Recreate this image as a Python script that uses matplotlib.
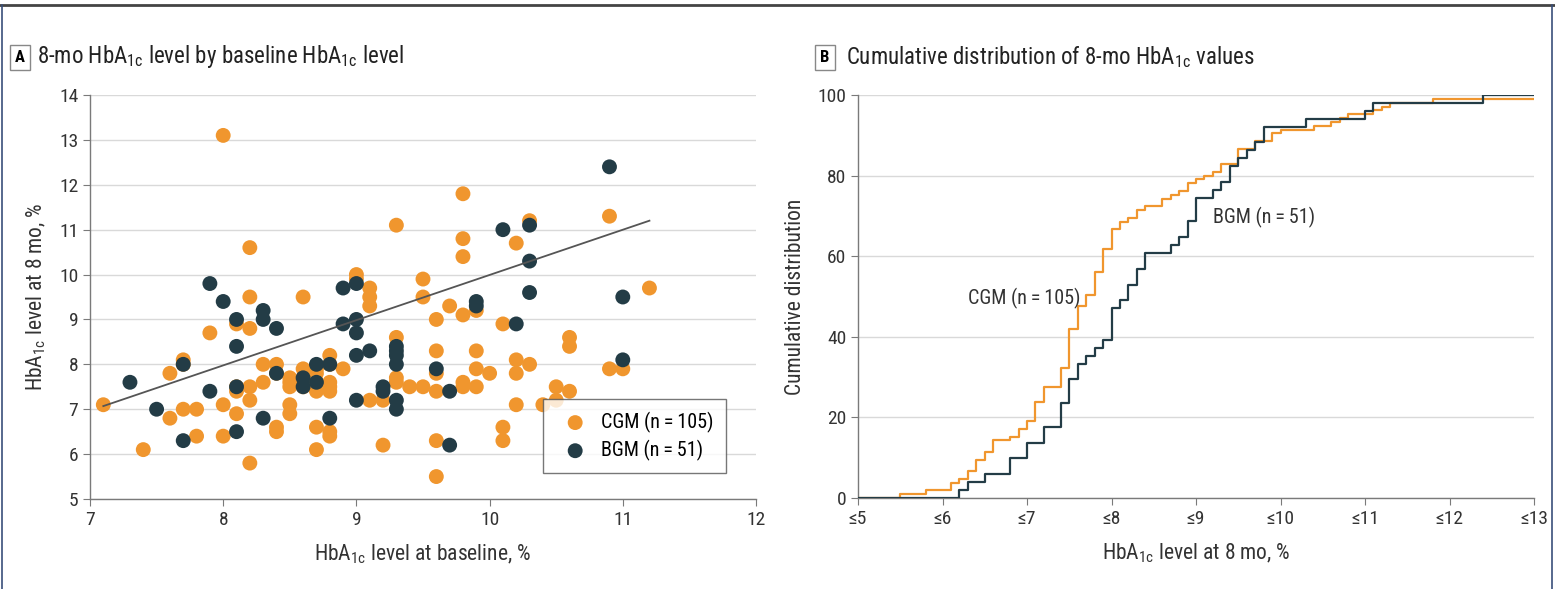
import numpy as np
import matplotlib.pyplot as plt
from matplotlib.lines import Line2D
from matplotlib import font_manager

names = {f.name for f in font_manager.fontManager.ttflist}
narrow = [n for n in ['Liberation Sans Narrow', 'Roboto Condensed', 'Open Sans Condensed',
                      'DejaVu Sans Condensed'] if n in names]
plt.rcParams['font.family'] = narrow[:1] + ['DejaVu Sans']
plt.rcParams['font.stretch'] = 'condensed'

ORANGE = '#F0962E'
DARK = '#233C46'
GRID = '#D9D9D9'
AXC = '#7A7A7A'

# CGM group: baseline HbA1c (x) and 8-mo HbA1c (y)
cgm_base = [7.1, 7.4, 7.6, 7.6, 7.7, 7.7, 7.8, 7.8, 7.9, 8.0, 8.0, 8.0, 8.1, 8.1, 8.1,
            8.2, 8.2, 8.2, 8.2, 8.2, 8.2, 8.3, 8.3, 8.4, 8.4, 8.4, 8.5, 8.5, 8.5, 8.5,
            8.6, 8.6, 8.7, 8.7, 8.7, 8.7, 8.8, 8.8, 8.8, 8.8, 8.8, 8.9, 9.0, 9.1, 9.1,
            9.1, 9.1, 9.2, 9.2, 9.3, 9.3, 9.3, 9.4, 9.5, 9.5, 9.5, 9.6, 9.6, 9.6, 9.6,
            9.6, 9.7, 9.8, 9.8, 9.8, 9.8, 9.8, 9.8, 9.9, 9.9, 9.9, 9.9, 10.0, 10.1, 10.1,
            10.1, 10.2, 10.2, 10.2, 10.2, 10.3, 10.3, 10.4, 10.5, 10.5, 10.6, 10.6, 10.6, 10.9, 10.9,
            11.0, 11.2,
            7.7, 8.1, 8.4, 8.6, 8.6, 8.7, 8.7, 8.8, 8.8, 9.3, 8.5, 9.6, 9.0]
cgm_8mo = [7.1, 6.1, 6.8, 7.8, 7.0, 8.1, 6.4, 7.0, 8.7, 13.1, 6.4, 7.1, 6.9, 7.4, 8.9,
           10.6, 9.5, 8.8, 7.5, 7.2, 5.8, 8.0, 7.6, 8.0, 6.6, 6.5, 7.6, 7.5, 7.1, 6.9,
           9.5, 7.9, 7.9, 7.4, 6.6, 6.1, 8.2, 7.6, 7.4, 6.5, 6.4, 7.9, 10.0, 9.7, 9.5,
           9.3, 7.2, 7.2, 6.2, 11.1, 8.6, 7.7, 7.5, 9.9, 9.5, 7.5, 9.0, 8.3, 7.4, 6.3,
           5.5, 9.3, 11.8, 10.8, 10.4, 9.1, 7.6, 7.5, 9.2, 8.3, 7.9, 7.5, 7.8, 8.9, 6.6,
           6.3, 10.7, 8.1, 7.8, 7.1, 11.2, 8.0, 7.1, 7.5, 7.2, 8.6, 8.4, 7.4, 11.3, 7.9,
           7.9, 9.7,
           8.0, 7.5, 7.8, 7.7, 7.5, 7.6, 7.8, 7.5, 8.0, 7.6, 7.7, 7.8, 9.9]

# BGM group
bgm_base = [7.3, 7.5, 7.7, 7.7, 7.9, 7.9, 8.0, 8.1, 8.1, 8.1, 8.1, 8.3, 8.3, 8.3, 8.4,
            8.4, 8.6, 8.6, 8.7, 8.7, 8.8, 8.8, 8.9, 8.9, 9.0, 9.0, 9.0, 9.0, 9.0, 9.1,
            9.2, 9.2, 9.3, 9.3, 9.3, 9.3, 9.3, 9.3, 9.6, 9.7, 9.7, 9.9, 9.9, 10.1, 10.2,
            10.3, 10.3, 10.3, 10.9, 11.0, 11.0]
bgm_8mo = [7.6, 7.0, 8.0, 6.3, 9.8, 7.4, 9.4, 9.0, 8.4, 7.5, 6.5, 9.2, 9.0, 6.8, 8.8,
           7.8, 7.7, 7.5, 8.0, 7.6, 8.0, 6.8, 9.7, 8.9, 9.8, 9.0, 8.7, 8.2, 7.2, 8.3,
           7.5, 7.4, 8.4, 8.3, 8.2, 8.0, 7.2, 7.0, 7.9, 7.4, 6.2, 9.4, 9.3, 11.0, 8.9,
           11.1, 10.3, 9.6, 12.4, 9.5, 8.1]

# fitted line endpoints
fit_x = [7.1, 11.2]
fit_y = [7.07, 11.2]

cdf_ticks = [5, 6, 7, 8, 9, 10, 11, 12, 13]
cdf_labels = ['≤%d' % t for t in cdf_ticks]

lab_cgm = 'CGM (n\u2009=\u2009105)'
lab_bgm = 'BGM (n\u2009=\u200951)'

TITLE = 16.5
LAB = 15.5
TICK = 14
NOTE = 14.5

fig = plt.figure(figsize=(15.55, 5.89), dpi=100)


def style_axes(ax):
    for s in ['top', 'right']:
        ax.spines[s].set_visible(False)
    for s in ['left', 'bottom']:
        ax.spines[s].set_color(AXC)
        ax.spines[s].set_linewidth(1.0)
    ax.tick_params(colors='#333333', labelsize=TICK, length=5, color=AXC)
    ax.grid(axis='y', color=GRID, linewidth=1.0)
    ax.set_axisbelow(True)


# Panel A
axA = fig.add_axes([90 / 1555, 1 - 499 / 589, 666 / 1555, 404 / 589])
style_axes(axA)
axA.scatter(cgm_base, cgm_8mo, s=115, color=ORANGE, edgecolors='none', zorder=3,
            label=lab_cgm)
axA.scatter(bgm_base, bgm_8mo, s=115, color=DARK, edgecolors='none', zorder=4,
            label=lab_bgm)
axA.plot(fit_x, fit_y, color='#555555', linewidth=1.3, zorder=5)
axA.set_xlim(7, 12)
axA.set_ylim(5, 14)
axA.set_xticks(range(7, 13))
axA.set_yticks(range(5, 15))
axA.set_xlabel('HbA$_{\\mathregular{1c}}$ level at baseline, %', fontsize=LAB,
               color='#333333', labelpad=10)
axA.set_ylabel('HbA$_{\\mathregular{1c}}$ level at 8 mo, %', fontsize=LAB,
               color='#333333', labelpad=8)
leg = axA.legend(loc='lower right', bbox_to_anchor=(0.97, 0.04), fontsize=NOTE,
                 frameon=True, fancybox=False, edgecolor='#555555',
                 handletextpad=0.3, borderpad=0.6, labelspacing=0.35,
                 markerscale=1.0)
leg.get_frame().set_linewidth(1.0)

# Panel B
axB = fig.add_axes([858 / 1555, 1 - 498 / 589, 676 / 1555, 403 / 589])
style_axes(axB)


def cdf_steps(vals):
    v = np.sort(np.asarray(vals))
    pct = np.arange(1, len(v) + 1) / len(v) * 100
    xs = np.concatenate([[5], v, [13.5]])
    ys = np.concatenate([[0], pct, [pct[-1]]])
    return xs, ys


xb, yb = cdf_steps(bgm_8mo)
xc, yc = cdf_steps(cgm_8mo)
axB.step(xc, yc, where='post', color=ORANGE, linewidth=1.6, zorder=3)
axB.step(xb, yb, where='post', color=DARK, linewidth=1.6, zorder=4)
axB.set_xlim(5, 13)
axB.set_ylim(0, 100)
axB.set_xticks(cdf_ticks)
axB.set_xticklabels(cdf_labels)
axB.set_yticks(range(0, 101, 20))
axB.set_xlabel('HbA$_{\\mathregular{1c}}$ level at 8 mo, %', fontsize=LAB,
               color='#333333', labelpad=10)
axB.set_ylabel('Cumulative distribution', fontsize=LAB, color='#333333', labelpad=8)
axB.text(6.97, 49.5, lab_cgm, fontsize=NOTE, color='#333333',
         ha='center', va='center')
axB.text(9.2, 69.5, lab_bgm, fontsize=NOTE, color='#333333',
         ha='left', va='center')

# panel titles with boxed letters
box = dict(boxstyle='square,pad=0.3', facecolor='white', edgecolor='#888888',
           linewidth=1.0)
fig.text(20 / 1555, 1 - 57 / 589, 'A', fontsize=12, fontweight='bold', ha='center',
         va='center', bbox=box)
fig.text(37 / 1555, 1 - 57 / 589,
         '8-mo HbA$_{\\mathregular{1c}}$ level by baseline HbA$_{\\mathregular{1c}}$ level',
         fontsize=TITLE, color='#222222', ha='left', va='center')
fig.text(825 / 1555, 1 - 57 / 589, 'B', fontsize=12, fontweight='bold', ha='center',
         va='center', bbox=box)
fig.text(846 / 1555, 1 - 57 / 589,
         'Cumulative distribution of 8-mo HbA$_{\\mathregular{1c}}$ values',
         fontsize=TITLE, color='#222222', ha='left', va='center')

# figure frame
fig.add_artist(Line2D([0, 1], [1 - 5 / 589, 1 - 5 / 589], color='#444444',
                      linewidth=2.0, transform=fig.transFigure))
fig.add_artist(Line2D([2 / 1555, 2 / 1555], [0, 1 - 5 / 589], color='#3A4F7A',
                      linewidth=1.2, transform=fig.transFigure))
fig.add_artist(Line2D([1552 / 1555, 1552 / 1555], [0, 1 - 5 / 589], color='#3A4F7A',
                      linewidth=1.2, transform=fig.transFigure))

fig.savefig('out.png', dpi=100)
